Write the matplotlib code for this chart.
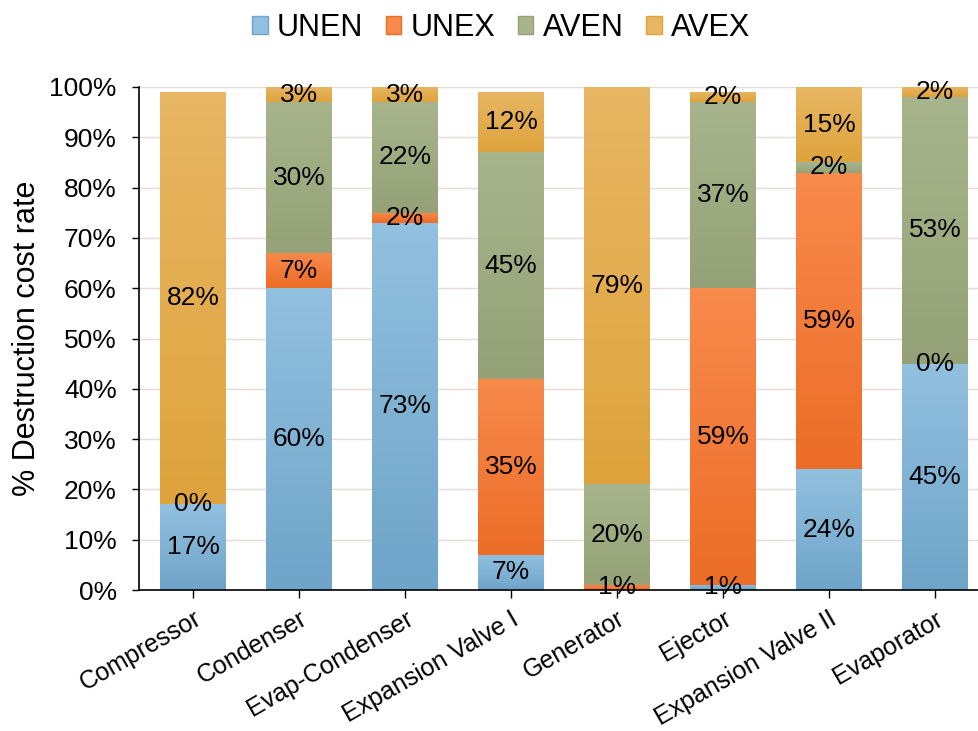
import matplotlib
matplotlib.use("Agg")
import matplotlib.pyplot as plt
import numpy as np
from matplotlib.colors import LinearSegmentedColormap
from matplotlib.patches import Patch

plt.rcParams['font.family'] = ['Liberation Sans', 'DejaVu Sans']

categories = ["Compressor", "Condenser", "Evap-Condenser", "Expansion Valve I",
              "Generator", "Ejector", "Expansion Valve II", "Evaporator"]
series_names = ["UNEN", "UNEX", "AVEN", "AVEX"]
unen = [17, 60, 73, 7, 0, 1, 24, 45]
unex = [0, 7, 2, 35, 1, 59, 59, 0]
aven = [0, 30, 22, 45, 20, 37, 2, 53]
avex = [82, 3, 3, 12, 79, 2, 15, 2]
# which labels are shown (zero-valued labels shown only where the reference shows them)
show_unen = [True, True, True, True, False, True, True, True]
show_unex = [True, True, True, True, True, True, True, True]
show_aven = [False, True, True, True, True, True, True, True]
show_avex = [True, True, True, True, True, True, True, True]

colors_top = ["#92c0df", "#f88a4c", "#a8b58c", "#e8b764"]
colors_bot = ["#6fa5c9", "#ec6d27", "#95a176", "#dea33c"]

fig = plt.figure(figsize=(9.79, 7.31), dpi=100)
ax = fig.add_axes([139/979, 141/731, (989-139)/979, 503/731])

x = np.arange(len(categories))
width = 0.62
bottom = np.zeros(len(categories))
data = [unen, unex, aven, avex]
shows = [show_unen, show_unex, show_aven, show_avex]
for i, (vals, show) in enumerate(zip(data, shows)):
    vals = np.array(vals, dtype=float)
    bars = ax.bar(x, vals, width, bottom=bottom, color=colors_bot[i], zorder=2,
                  linewidth=0)
    cmap = LinearSegmentedColormap.from_list("g%d" % i, [colors_bot[i], colors_top[i]])
    grad = np.linspace(0, 1, 64).reshape(-1, 1)
    for b in bars:
        if b.get_height() <= 0:
            continue
        x0, y0 = b.get_x(), b.get_y()
        w, h = b.get_width(), b.get_height()
        im = ax.imshow(grad, extent=[x0, x0 + w, y0, y0 + h], origin='lower',
                       cmap=cmap, aspect='auto', zorder=2.5)
        im.set_clip_path(b)
    for j, b in enumerate(bars):
        if show[j]:
            ax.text(b.get_x() + b.get_width() / 2, bottom[j] + vals[j] / 2,
                    "%d%%" % vals[j], ha='center', va='center', fontsize=19,
                    color='black', zorder=4)
    bottom += vals

ax.set_xlim(-0.51, 7.51)
ax.set_ylim(0, 100)
ax.set_yticks(np.arange(0, 101, 10))
ax.set_yticklabels(["%d%%" % v for v in range(0, 101, 10)], fontsize=19)
ax.set_xticks(x)
ax.set_xticklabels(categories, rotation=30, ha='right', rotation_mode='anchor', fontsize=18)
ax.tick_params(axis='x', length=6, width=1, direction='out', pad=6)
ax.tick_params(axis='y', length=5, width=1, direction='out', pad=11)
ax.grid(axis='y', color='#e8dada', linewidth=1, zorder=0)
ax.set_axisbelow(True)
for s in ['top', 'right']:
    ax.spines[s].set_visible(False)
ax.spines['left'].set_linewidth(1.2)
ax.spines['bottom'].set_linewidth(1.2)
ax.set_ylabel("% Destruction cost rate", fontsize=22, labelpad=5)

handles = [Patch(facecolor=colors_top[i], edgecolor=colors_bot[i]) for i in range(4)]
fig.legend(handles, series_names, loc='center', bbox_to_anchor=(0.512, 0.962), ncol=4,
           frameon=False, fontsize=22, handlelength=0.5, handleheight=0.5,
           handletextpad=0.3, columnspacing=0.75)

fig.savefig("out.png", dpi=100)
